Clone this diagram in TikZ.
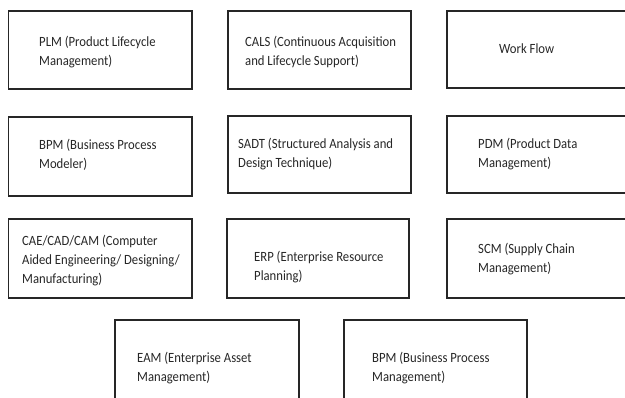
\documentclass[tikz,border=0pt]{standalone}
\usepackage{fontspec}
\setmainfont{Carlito}[FakeStretch=0.9]
\begin{document}
\begin{tikzpicture}[x=1pt,y=-1pt,
  box/.style={draw=black!85,line width=1.3pt,rectangle,inner sep=0pt},
  lbl/.style={anchor=base west,inner sep=0pt,align=left,text=black!85,
    font=\fontsize{14.1}{19}\selectfont}]
\useasboundingbox (0,0) rectangle (625,398);
\clip (0,0) rectangle (625,398);
% boxes
\draw[box] (8.5,11) rectangle (192,89) node[pos=0.5] (b1) {};
\draw[box] (228,11) rectangle (411,89) node[pos=0.5] (b2) {};
\draw[box] (447,11) rectangle (640,88) node[pos=0.5] (b3) {};
\draw[box] (8.5,117) rectangle (192,196) node[pos=0.5] (b4) {};
\draw[box] (228,116) rectangle (411,193) node[pos=0.5] (b5) {};
\draw[box] (447,116) rectangle (640,193) node[pos=0.5] (b6) {};
\draw[box] (8.5,219) rectangle (192,298) node[pos=0.5] (b7) {};
\draw[box] (227,219) rectangle (409,298) node[pos=0.5] (b8) {};
\draw[box] (447,219) rectangle (640,298) node[pos=0.5] (b9) {};
\draw[box] (115,320) rectangle (299,410) node[pos=0.5] (b10) {};
\draw[box] (344,320) rectangle (527,410) node[pos=0.5] (b11) {};
% labels (anchored at the baseline of the last line)
\node[lbl] (t1) at (39,65.7) {PLM (Product Lifecycle\\Management)};
\node[lbl] (t2) at (245,65.7) {CALS (Continuous Acquisition\\and Lifecycle Support)};
\node[lbl] (t3) at (499,54) {Work Flow};
\node[lbl] (t4) at (39,169) {BPM (Business Process\\Modeler)};
\node[lbl] (t5) at (238,167.3) {SADT (Structured Analysis and\\Design Technique)};
\node[lbl] (t6) at (478,168) {PDM (Product Data\\Management)};
\node[lbl] (t7) at (22,284) {CAE/CAD/CAM (Computer\\Aided Engineering/ Designing/\\Manufacturing)};
\node[lbl] (t8) at (254,280.7) {ERP (Enterprise Resource\\Planning)};
\node[lbl] (t9) at (478,273) {SCM (Supply Chain\\Management)};
\node[lbl] (t10) at (137,382) {EAM (Enterprise Asset\\Management)};
\node[lbl] (t11) at (372,382) {BPM (Business Process\\Management)};
\end{tikzpicture}
\end{document}
